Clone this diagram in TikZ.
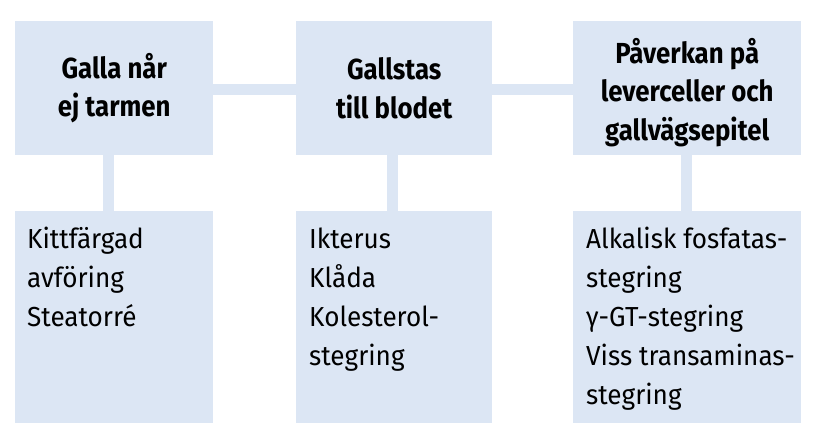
\documentclass[tikz,border=0pt]{standalone}
\usepackage{fontspec}
\setmainfont{Fira Sans}[FakeStretch=0.95]
\newfontfamily\headfont{Fira Sans}[FakeStretch=0.89]
\usetikzlibrary{backgrounds}
\definecolor{boxblue}{RGB}{220,230,244}
\tikzset{
  box/.style={fill=boxblue, draw=none, inner sep=0pt, anchor=north west},
  head/.style={font=\headfont\bfseries\fontsize{29}{38.5}\selectfont, align=center, text=black},
  body/.style={font=\fontsize{27.5}{39}\selectfont, align=left, anchor=base west, inner sep=0pt, text=black},
  conn/.style={boxblue, line width=11pt},
}
\begin{document}
\begin{tikzpicture}[x=1pt,y=-1pt]
\useasboundingbox (0,0) rectangle (824,442);
% top boxes
\node[box, minimum width=198pt, minimum height=134pt] (t1) at (15,21) {};
\node[box, minimum width=196pt, minimum height=134pt] (t2) at (296,21) {};
\node[box, minimum width=228pt, minimum height=134pt] (t3) at (573,21) {};
\node[head] (h1) at (t1.center) {Galla når\\ej tarmen};
\node[head] (h2) at (t2.center) {Gallstas\\till blodet};
\node[head] (h3) at ([yshift=-4pt]t3.center) {Påverkan på\\leverceller och\\gallvägsepitel};
% bottom boxes
\node[box, minimum width=198pt, minimum height=212pt] (b1) at (15,211) {};
\node[box, minimum width=196pt, minimum height=212pt] (b2) at (296,211) {};
\node[box, minimum width=228pt, minimum height=212pt] (b3) at (573,211) {};
% base anchor of a multi-line node lies on its last line
\node[body] (x1) at ([xshift=12pt,yshift=-115pt]b1.north west) {Kittfärgad\\avföring\\Steatorré};
\node[body] (x2) at ([xshift=13pt,yshift=-154pt]b2.north west) {Ikterus\\Klåda\\Kolesterol-\\stegring};
\node[body] (x3) at ([xshift=13pt,yshift=-193pt]b3.north west) {Alkalisk fosfatas-\\stegring\\γ-GT-stegring\\Viss transaminas-\\stegring};
\begin{scope}[on background layer]
  \fill[white] (0,0) rectangle (824,442);
  \draw[conn] ([yshift=-1.5pt]t1.center) -- ([yshift=-1.5pt]t3.center);
  \draw[conn] ([xshift=-6pt]t1.south) -- ([xshift=-6pt]b1.north);
  \draw[conn] ([xshift=-2pt]t2.south) -- ([xshift=-2pt]b2.north);
  \draw[conn] ([xshift=-1pt]t3.south) -- ([xshift=-1pt]b3.north);
\end{scope}
\end{tikzpicture}
\end{document}
